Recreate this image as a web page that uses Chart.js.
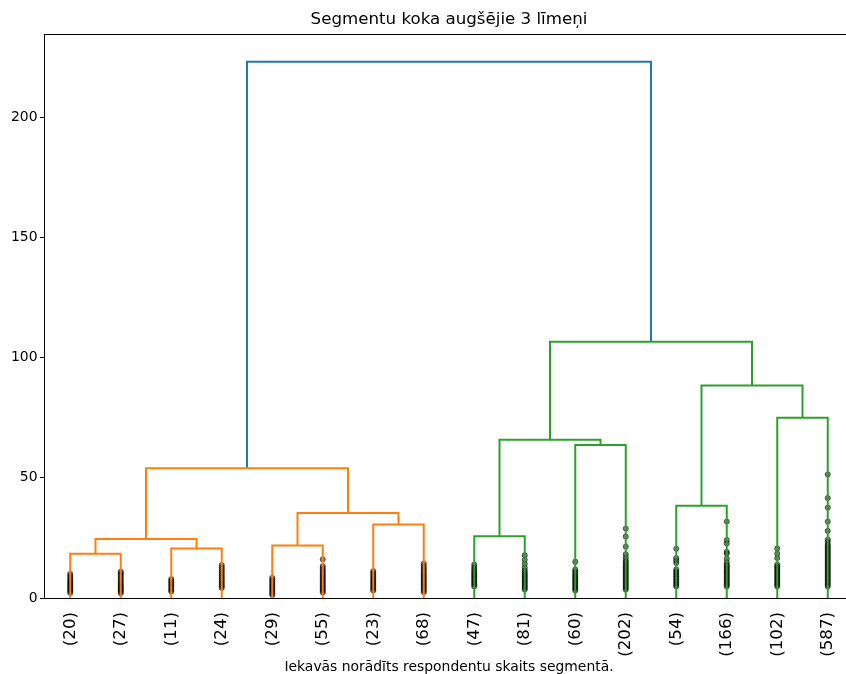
<!DOCTYPE html>
<html>
<head>
<meta charset="utf-8">
<script src="https://cdn.jsdelivr.net/npm/chart.js@4.4.1/dist/chart.umd.min.js"></script>
<style>
  html, body { margin: 0; padding: 0; background: #fff; overflow: hidden; }
  #wrap { width: 900px; height: 700px; }
</style>
</head>
<body>
<div id="wrap"><canvas id="c" width="900" height="700"></canvas></div>
<script>
// Leaf clusters (respondent counts), in dendrogram order
const leafLabels = ['(20)', '(27)', '(11)', '(24)', '(29)', '(55)', '(23)', '(68)',
                    '(47)', '(81)', '(60)', '(202)', '(54)', '(166)', '(102)', '(587)'];

// Linkage: node 16 + k joins mergeLeft[k] and mergeRight[k] at mergeHeights[k]
const mergeLeft    = [0, 2, 16, 4, 6, 19, 18, 8, 10, 23, 12, 14, 26, 25, 22];
const mergeRight   = [1, 3, 17, 5, 7, 20, 21, 9, 11, 24, 13, 15, 27, 28, 29];
const mergeHeights = [18.4, 20.6, 24.5, 21.8, 30.6, 35.4, 54.0,
                      25.7, 63.6, 65.8, 38.4, 75.0, 88.4, 106.6, 223.0];

// Heights of the merges hidden inside each truncated leaf cluster
const contracted = [
  [2.1, 2.8, 3.4, 4.0, 4.6, 5.2, 5.8, 6.4, 7.0, 7.7, 8.4, 9.2, 10.0],
  [2.0, 2.7, 3.3, 3.9, 4.5, 5.1, 5.8, 6.5, 7.2, 8.0, 8.8, 9.6, 10.3, 11.0],
  [2.7, 3.4, 4.1, 4.9, 5.6, 6.4, 7.1, 7.9],
  [4.2, 4.9, 5.6, 6.3, 7.0, 7.8, 8.6, 9.4, 10.2, 11.0, 11.9, 12.8, 13.7],
  [1.2, 1.9, 2.6, 3.3, 4.0, 4.7, 5.4, 6.1, 6.9, 7.6, 8.4],
  [2.3, 3.0, 3.7, 4.4, 5.1, 5.8, 6.5, 7.2, 7.9, 8.6, 9.3, 10.0, 10.8, 11.6, 12.4, 13.3, 16.1],
  [3.1, 3.8, 4.5, 5.2, 5.9, 6.6, 7.3, 8.0, 8.8, 9.6, 10.4, 11.2],
  [2.4, 3.1, 3.8, 4.5, 5.2, 5.9, 6.6, 7.3, 8.0, 8.7, 9.4, 10.1, 10.9, 11.7, 12.5, 13.4, 14.3],
  [4.8, 5.5, 6.2, 6.9, 7.6, 8.3, 9.0, 9.7, 10.4, 11.2, 12.0, 12.9, 13.9],
  [3.5, 4.2, 4.9, 5.6, 6.3, 7.0, 7.7, 8.4, 9.1, 9.8, 10.6, 11.4, 12.6, 14.2, 15.9, 17.8],
  [3.1, 3.8, 4.5, 5.2, 5.9, 6.6, 7.3, 8.0, 8.7, 9.4, 10.2, 11.0, 11.9, 15.1],
  [3.5, 4.2, 4.9, 5.6, 6.3, 7.0, 7.7, 8.4, 9.1, 9.8, 10.5, 11.2, 11.9, 12.6, 13.3, 14.1,
   14.9, 15.7, 16.9, 18.2, 21.4, 25.6, 28.9],
  [4.8, 5.5, 6.2, 6.9, 7.6, 8.3, 9.0, 9.7, 10.4, 11.1, 11.9, 14.6, 15.6, 16.6, 20.5],
  [4.8, 5.5, 6.2, 6.9, 7.6, 8.3, 9.0, 9.7, 10.4, 11.1, 11.8, 12.5, 13.2, 13.9, 14.9,
   16.4, 18.5, 19.2, 22.7, 24.1, 31.8],
  [4.8, 5.5, 6.2, 6.9, 7.6, 8.3, 9.0, 9.7, 10.4, 11.1, 11.8, 12.5, 13.2, 13.9, 16.6, 18.5, 20.6],
  [4.8, 5.5, 6.2, 6.9, 7.6, 8.3, 9.0, 9.7, 10.4, 11.1, 11.8, 12.5, 13.2, 13.9, 14.6, 15.3,
   16.0, 16.7, 17.4, 18.1, 18.8, 19.5, 20.2, 20.9, 21.6, 22.3, 23.4, 24.3,
   27.9, 31.8, 37.6, 41.6, 51.4]
];

const yTicks = [0, 50, 100, 150, 200];

// scipy-like palette: clusters below the threshold cycle through C1, C2, ...; above is C0
const aboveColor = '#1f77b4';
const clusterPalette = ['#ff7f0e', '#2ca02c', '#d62728', '#9467bd'];

const nLeaves = leafLabels.length;
const leafX = i => 5 + 10 * i;
const maxHeight = Math.max(...mergeHeights);
const colorThreshold = 0.7 * maxHeight;

// position and height of each node
const nodeX = [], nodeH = [];
for (let i = 0; i < nLeaves; i++) { nodeX[i] = leafX(i); nodeH[i] = 0; }
mergeHeights.forEach((h, k) => {
  const id = nLeaves + k;
  nodeX[id] = (nodeX[mergeLeft[k]] + nodeX[mergeRight[k]]) / 2;
  nodeH[id] = h;
});

// assign colours: every maximal subtree below the threshold gets its own colour
const linkColor = new Array(mergeHeights.length).fill(aboveColor);
let paletteIdx = 0;
function paint(id, color) {
  if (id < nLeaves) return;
  const k = id - nLeaves;
  linkColor[k] = color;
  paint(mergeLeft[k], color);
  paint(mergeRight[k], color);
}
function walk(id) {
  if (id < nLeaves) return;
  const k = id - nLeaves;
  if (mergeHeights[k] < colorThreshold) {
    paint(id, clusterPalette[paletteIdx++ % clusterPalette.length]);
  } else {
    walk(mergeLeft[k]);
    walk(mergeRight[k]);
  }
}
walk(nLeaves + mergeHeights.length - 1);

const linkSets = mergeHeights.map((h, k) => {
  const a = mergeLeft[k], b = mergeRight[k];
  return {
    type: 'scatter',
    showLine: true,
    data: [
      { x: nodeX[a], y: nodeH[a] },
      { x: nodeX[a], y: h },
      { x: nodeX[b], y: h },
      { x: nodeX[b], y: nodeH[b] }
    ],
    borderColor: linkColor[k],
    borderWidth: 2,
    pointRadius: 0,
    tension: 0,
    fill: false,
    order: 0
  };
});

const markPoints = [];
contracted.forEach((hs, i) => hs.forEach(h => markPoints.push({ x: leafX(i), y: h })));

const markSet = {
  type: 'scatter',
  data: markPoints,
  pointRadius: 2.6,
  pointBorderWidth: 1,
  backgroundColor: 'rgba(0,0,0,0.5)',
  borderColor: 'rgba(0,0,0,0.5)',
  order: 1
};

// axes frame (all four spines)
const framePlugin = {
  id: 'frame',
  afterDraw(chart) {
    const { ctx, chartArea: a } = chart;
    ctx.save();
    ctx.strokeStyle = '#000';
    ctx.lineWidth = 1;
    ctx.strokeRect(Math.round(a.left) - 0.5, Math.round(a.top) - 0.5,
                   Math.round(a.right - a.left) + 1, Math.round(a.bottom - a.top) + 1);
    ctx.restore();
  }
};

const FONT = "'DejaVu Sans', sans-serif";

new Chart(document.getElementById('c'), {
  type: 'scatter',
  data: { datasets: [...linkSets, markSet] },
  options: {
    responsive: false,
    animation: false,
    events: [],
    layout: { padding: { left: 0, right: 47, top: 0, bottom: 0 } },
    plugins: {
      legend: { display: false },
      tooltip: { enabled: false },
      title: {
        display: true,
        text: 'Segmentu koka augšējie 3 līmeņi',
        fullSize: false,
        color: '#000',
        font: { family: FONT, size: 16.67, weight: 'normal', lineHeight: 1.2 },
        padding: { top: 10, bottom: 5 }
      }
    },
    scales: {
      x: {
        type: 'linear',
        min: 0,
        max: nLeaves * 10,
        grid: { display: false },
        border: { display: false },
        afterBuildTicks(scale) {
          scale.ticks = leafLabels.map((_, i) => ({ value: leafX(i) }));
        },
        afterFit(scale) { scale.height = 102; },
        ticks: {
          autoSkip: false,
          minRotation: 90,
          maxRotation: 90,
          padding: 6,
          color: '#000',
          font: { family: FONT, size: 16.67 },
          callback: v => leafLabels[Math.round((v - 5) / 10)]
        },
        title: {
          display: true,
          text: 'Iekavās norādīts respondentu skaits segmentā.',
          color: '#000',
          font: { family: FONT, size: 13.9, lineHeight: 1.2 },
          padding: { top: 0, bottom: 24.7 }
        }
      },
      y: {
        type: 'linear',
        min: 0,
        max: maxHeight * 1.05,
        grid: { drawOnChartArea: false, drawTicks: true, tickLength: 5, color: '#000', lineWidth: 1 },
        border: { display: false },
        afterBuildTicks(scale) { scale.ticks = yTicks.map(v => ({ value: v })); },
        afterFit(scale) { scale.width = 45; },
        ticks: {
          padding: 2.5,
          color: '#000',
          font: { family: FONT, size: 13.9 }
        }
      }
    }
  },
  plugins: [framePlugin]
});
</script>
</body>
</html>
